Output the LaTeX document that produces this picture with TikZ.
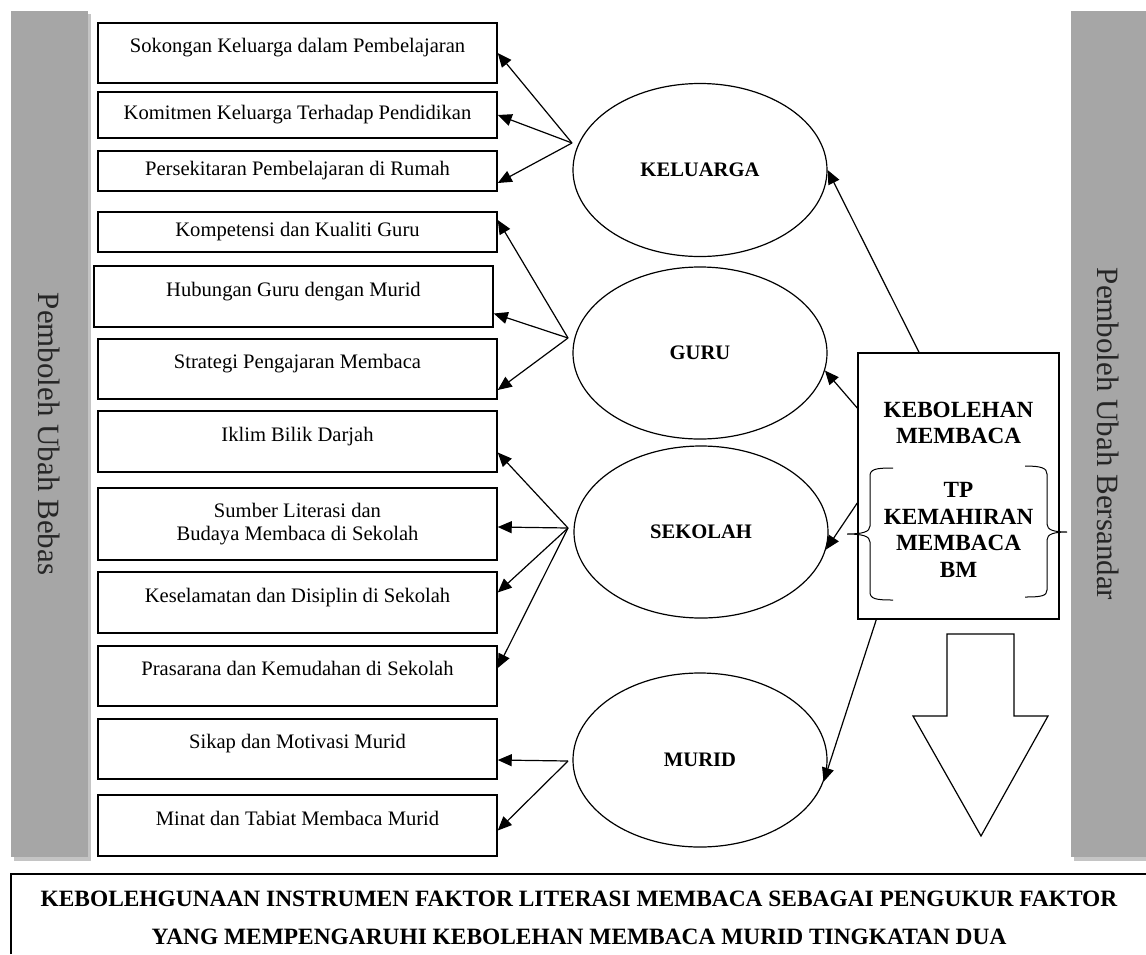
\documentclass[tikz,border=0pt]{standalone}
\usepackage{fontspec}
\setmainfont{Liberation Serif}
\usetikzlibrary{arrows.meta,shapes.geometric}
\definecolor{bargrey}{HTML}{A6A6A6}
\definecolor{bayang}{HTML}{C4C4C4}

\begin{document}
\begin{tikzpicture}[x=0.5pt,y=-0.5pt,
  faktor/.style={draw,line width=0.75pt,inner sep=0pt,minimum width=199.5pt,
    align=center,font=\fontsize{10.3}{11.5}\selectfont},
  atas/.style={text height=0.7em,text depth=0.75em},
  konstruk/.style={draw,ellipse,line width=0.6pt,inner sep=0pt,minimum width=127pt,
    font=\bfseries\fontsize{10.3}{12}\selectfont},
  panah/.style={-{Triangle[length=7pt,width=6pt]},line width=0.6pt},
  tegak/.style={rotate=-90,text=black!85,font=\fontsize{15.5}{18}\selectfont}]
  \useasboundingbox (0,0) rectangle (1146,954);

  \fill[bayang] (14,14) rectangle (91,861);
  \fill[bargrey] (11,11) rectangle (88,857);
  \fill[bayang] (1074,14) rectangle (1146,861);
  \fill[bargrey] (1071,11) rectangle (1146,857);
  \node[tegak] (bebas) at (49,434) {Pemboleh Ubah Bebas};
  \node[tegak] (bersandar) at (1108,434) {Pemboleh Ubah Bersandar};

  \node[faktor,atas,minimum height=30pt] (sokongan) at (297.5,53) {Sokongan Keluarga dalam Pembelajaran};
  \node[faktor,minimum height=23pt] (komitmen) at (297.5,115) {Komitmen Keluarga Terhadap Pendidikan};
  \node[faktor,minimum height=20pt] (persekitaran) at (297.5,171) {Persekitaran Pembelajaran di Rumah};
  \node[faktor,minimum height=20pt] (kompetensi) at (297.5,232) {Kompetensi dan Kualiti Guru};
  \node[faktor,atas,minimum height=30.5pt] (hubungan) at (293.5,296.5) {Hubungan Guru dengan Murid};
  \node[faktor,atas,minimum height=30pt] (strategi) at (297.5,369) {Strategi Pengajaran Membaca};
  \node[faktor,atas,minimum height=30.5pt] (iklim) at (297.5,441.5) {Iklim Bilik Darjah};
  \node[faktor,minimum height=36pt] (sumber) at (297.5,524) {Sumber Literasi dan\\Budaya Membaca di Sekolah};
  \node[faktor,atas,minimum height=30.5pt] (keselamatan) at (297.5,602.5) {Keselamatan dan Disiplin di Sekolah};
  \node[faktor,atas,minimum height=30pt] (prasarana) at (297.5,676) {Prasarana dan Kemudahan di Sekolah};
  \node[faktor,atas,minimum height=30pt] (sikap) at (297.5,749) {Sikap dan Motivasi Murid};
  \node[faktor,atas,minimum height=30.5pt] (minat) at (297.5,825.5) {Minat dan Tabiat Membaca Murid};

  \node[konstruk,minimum height=86.5pt] (keluarga) at (700,170) {KELUARGA};
  \node[konstruk,minimum height=86pt] (guru) at (700,353) {GURU};
  \node[konstruk,minimum height=86pt] (sekolah) at (701,532) {SEKOLAH};
  \node[konstruk,minimum height=87pt] (murid) at (700,760) {MURID};

  \node[draw,line width=0.75pt,minimum width=100.5pt,minimum height=133pt] (kebolehan) at (958.5,486) {};
  \node[align=center,font=\bfseries\fontsize{11.6}{13}\selectfont] (kb-judul) at (958.5,423) {KEBOLEHAN\\MEMBACA};
  \node[align=center,font=\bfseries\fontsize{11.6}{13.3}\selectfont] (tp) at (958.5,530) {TP\\KEMAHIRAN\\MEMBACA\\BM};
  \draw[line width=0.5pt] (893,468) .. controls (876,468) and (870,469) .. (870,476) -- (870,526)
    .. controls (870,532) and (862,534) .. (847,534) .. controls (862,534) and (870,536) .. (870,542)
    -- (870,592) .. controls (870,599) and (876,600) .. (893,600);
  \draw[line width=0.5pt] (1025,466) .. controls (1041,466) and (1047,468) .. (1047,474) -- (1047,524)
    .. controls (1047,530) and (1054,532) .. (1067,532) .. controls (1054,532) and (1047,534) .. (1047,540)
    -- (1047,590) .. controls (1047,596) and (1041,597) .. (1025,597);

  \draw[line width=0.6pt,fill=white] (947,634) -- (1014,634) -- (1014,716) -- (1048,716)
    -- (981,836) -- (913,716) -- (947,716) -- cycle;

  \coordinate (kel-ptr) at (572,143);
  \coordinate (guru-ptr) at (568,338);
  \coordinate (sek-ptr) at (568,528);
  \coordinate (mur-ptr) at (568,761);
  \draw[panah] (kel-ptr) -- (sokongan.east);
  \draw[panah] (kel-ptr) -- (komitmen.east);
  \draw[panah] (kel-ptr) -- ([yshift=-6pt]persekitaran.east);
  \draw[panah] (guru-ptr) -- ([yshift=6pt]kompetensi.east);
  \draw[panah] (guru-ptr) -- ([yshift=-8.5pt]hubungan.east);
  \draw[panah] (guru-ptr) -- ([yshift=-10.5pt]strategi.east);
  \draw[panah] (sek-ptr) -- ([yshift=-5.5pt]iklim.east);
  \draw[panah] (sek-ptr) -- ([yshift=-1.5pt]sumber.east);
  \draw[panah] (sek-ptr) -- ([yshift=5pt]keselamatan.east);
  \draw[panah] (sek-ptr) -- ([yshift=4pt]prasarana.east);
  \draw[panah] (mur-ptr) -- ([yshift=-5.5pt]sikap.east);
  \draw[panah] (mur-ptr) -- ([yshift=-2.5pt]minat.east);

  \draw[panah] ([xshift=-19.75pt]kebolehan.north) -- (keluarga.east);
  \draw[panah] ([yshift=39pt]kebolehan.west) -- (guru.-8);
  \draw[panah] ([yshift=-8.5pt]kebolehan.west) -- (sekolah.-8);
  \draw[panah] ([xshift=9.5pt]kebolehan.south west) -- (murid.-10);

  \draw[line width=0.75pt] (11,954) -- (11,874) -- (1146,874);
  \node[align=center,font=\bfseries\fontsize{11.7}{19}\selectfont] (tajuk) at (579,918)
    {KEBOLEHGUNAAN INSTRUMEN FAKTOR LITERASI MEMBACA SEBAGAI PENGUKUR FAKTOR\\
     YANG MEMPENGARUHI KEBOLEHAN MEMBACA MURID TINGKATAN DUA};
\end{tikzpicture}
\end{document}
